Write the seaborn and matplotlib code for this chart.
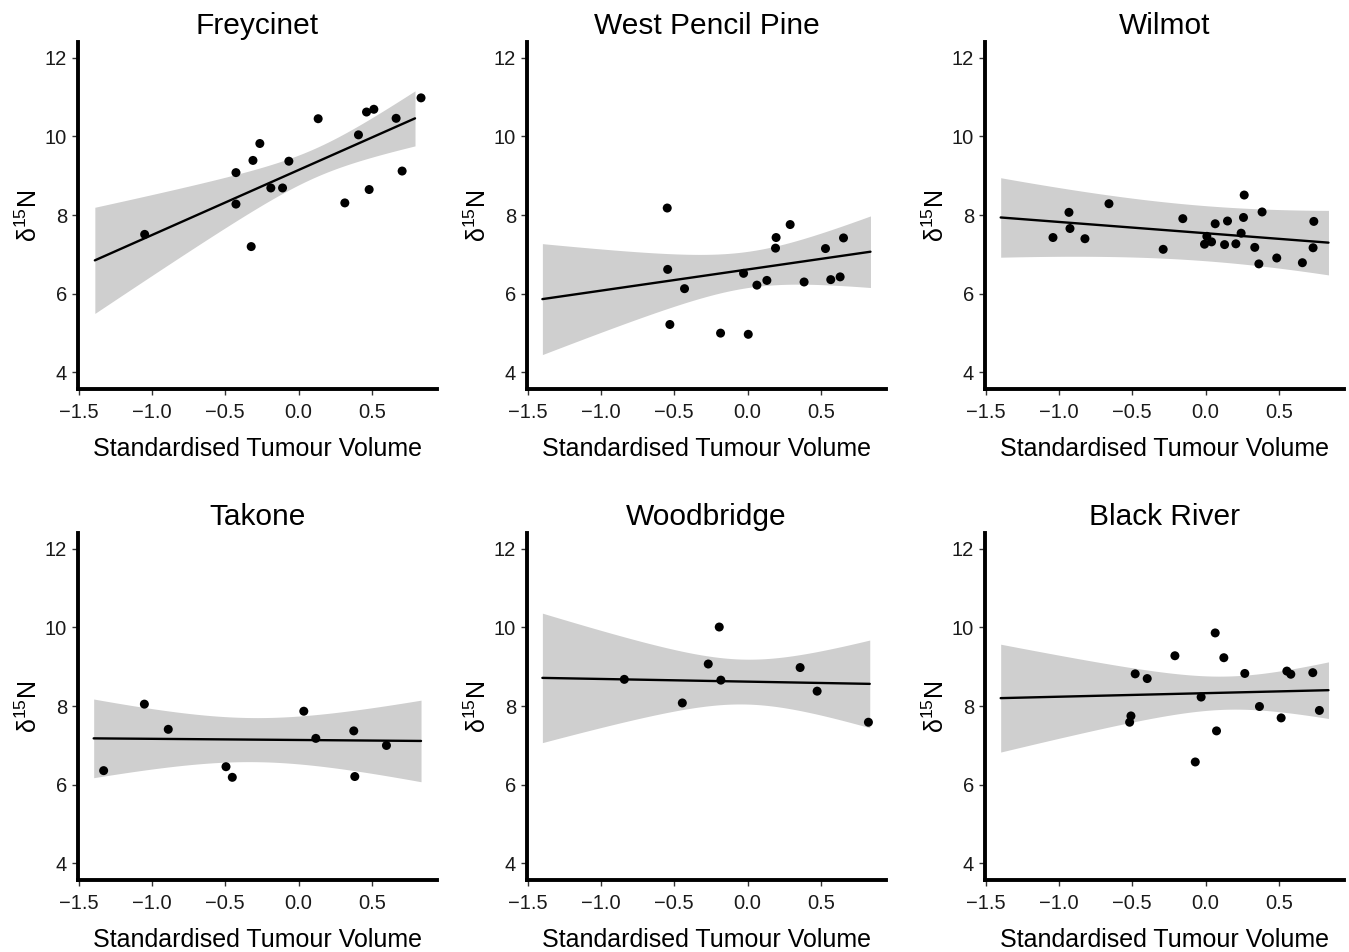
import numpy as np
import pandas as pd
import matplotlib
matplotlib.use("Agg")
import matplotlib.pyplot as plt
import seaborn as sns

# ---------------- data ----------------
sites = ["Freycinet", "West Pencil Pine", "Wilmot", "Takone", "Woodbridge", "Black River"]

freycinet_x = [-1.05, -0.427, -0.427, -0.323, -0.311, -0.264, -0.189, -0.109, -0.066,
               0.134, 0.316, 0.409, 0.464, 0.514, 0.482, 0.666, 0.707, 0.836]
freycinet_y = [7.51, 9.08, 8.28, 7.20, 9.39, 9.82, 8.69, 8.69, 9.37,
               10.45, 8.31, 10.04, 10.62, 10.69, 8.65, 10.46, 9.12, 10.98]

westpencil_x = [-0.548, -0.545, -0.530, -0.430, -0.184, -0.027, 0.005, 0.064, 0.132,
                0.191, 0.195, 0.291, 0.386, 0.532, 0.568, 0.632, 0.655]
westpencil_y = [8.18, 6.62, 5.22, 6.13, 5.00, 6.52, 4.97, 6.22, 6.34,
                7.16, 7.43, 7.76, 6.30, 7.15, 6.36, 6.43, 7.42]

wilmot_x = [-1.041, -0.932, -0.925, -0.823, -0.659, -0.289, -0.155, -0.007, 0.009, 0.041,
            0.066, 0.130, 0.150, 0.207, 0.243, 0.259, 0.264, 0.336, 0.364, 0.386,
            0.486, 0.661, 0.734, 0.739]
wilmot_y = [7.43, 8.07, 7.66, 7.40, 8.29, 7.13, 7.91, 7.26, 7.46, 7.32,
            7.78, 7.25, 7.85, 7.27, 7.54, 7.94, 8.51, 7.18, 6.76, 8.08,
            6.91, 6.79, 7.17, 7.84]

takone_x = [-1.330, -1.052, -0.889, -0.495, -0.452, 0.036, 0.118, 0.377, 0.384, 0.600]
takone_y = [6.36, 8.05, 7.41, 6.46, 6.19, 7.87, 7.18, 7.37, 6.21, 7.00]

woodbridge_x = [-0.841, -0.445, -0.268, -0.193, -0.182, 0.359, 0.475, 0.825]
woodbridge_y = [8.68, 8.08, 9.07, 10.01, 8.66, 8.98, 8.38, 7.59]

blackriver_x = [-0.518, -0.509, -0.480, -0.398, -0.209, -0.070, -0.030, 0.066, 0.075,
                0.125, 0.268, 0.368, 0.516, 0.555, 0.582, 0.732, 0.777]
blackriver_y = [7.59, 7.75, 8.82, 8.70, 9.28, 6.58, 8.23, 9.86, 7.37,
                9.23, 8.83, 7.99, 7.70, 8.89, 8.81, 8.85, 7.89]

site_x = [freycinet_x, westpencil_x, wilmot_x, takone_x, woodbridge_x, blackriver_x]
site_y = [freycinet_y, westpencil_y, wilmot_y, takone_y, woodbridge_y, blackriver_y]

# fitted model: intercept, slope
fit_intercept = [9.146, 6.618, 7.540, 7.139, 8.622, 8.329]
fit_slope = [1.652, 0.538, -0.286, -0.0295, -0.068, 0.0903]
# 95% CI half-width: sqrt(ci_min^2 + ci_curv * (x - ci_centre)^2)
ci_min = [0.368, 0.460, 0.700, 0.560, 0.570, 0.422]
ci_centre = [0.108, 0.009, 0.0125, -0.31, -0.021, 0.148]
ci_curv = [0.751, 0.895, 0.2665, 0.580, 1.253, 0.7115]
# prediction range
fit_lo = [-1.39, -1.40, -1.398, -1.398, -1.40, -1.398]
fit_hi = [0.795, 0.839, 0.839, 0.836, 0.834, 0.839]

x_ticks = [-1.5, -1.0, -0.5, 0.0, 0.5]
x_ticklabels = ["\u22121.5", "\u22121.0", "\u22120.5", "0.0", "0.5"]
y_ticks = [4, 6, 8, 10, 12]

# ---------------- style ----------------
sns.set_theme(style="ticks")
plt.rcParams["font.family"] = ["Liberation Sans", "DejaVu Sans"]
plt.rcParams["mathtext.fontset"] = "custom"
plt.rcParams["mathtext.rm"] = "Liberation Sans"
plt.rcParams["mathtext.it"] = "Liberation Sans:italic"
plt.rcParams["mathtext.bf"] = "Liberation Sans:bold"

W, H = 1349, 952
fig = plt.figure(figsize=(W / 100, H / 100), dpi=100)

col_left = [78, 527, 985]
col_width = 359
row_top = [42, 533]
row_height = 347

BAND = "#cfcfcf"

for i, site in enumerate(sites):
    r, c = divmod(i, 3)
    left = col_left[c] / W
    bottom = 1 - (row_top[r] + row_height) / H
    ax = fig.add_axes([left, bottom, col_width / W, row_height / H])

    df = pd.DataFrame({"x": site_x[i], "y": site_y[i]})
    grid = np.linspace(fit_lo[i], fit_hi[i], 200)
    pred = fit_intercept[i] + fit_slope[i] * grid
    half = np.sqrt(ci_min[i] ** 2 + ci_curv[i] * (grid - ci_centre[i]) ** 2)
    ax.fill_between(grid, pred - half, pred + half, color=BAND, linewidth=0, zorder=1)
    sns.lineplot(x=grid, y=pred, ax=ax, color="black", linewidth=1.7, zorder=2)
    sns.scatterplot(data=df, x="x", y="y", ax=ax, color="black", s=42,
                    edgecolor="none", zorder=3)

    ax.set_xlim(-1.505, 0.945)
    ax.set_ylim(3.58, 12.4)
    ax.set_xticks(x_ticks)
    ax.set_xticklabels(x_ticklabels)
    ax.set_yticks(y_ticks)
    ax.tick_params(axis="both", labelsize=14.5, length=4, width=1.0,
                   color="#333333", labelcolor="#1a1a1a")
    ax.tick_params(axis="x", pad=6)
    ax.tick_params(axis="y", pad=4)
    for sp in ["top", "right"]:
        ax.spines[sp].set_visible(False)
    for sp in ["left", "bottom"]:
        ax.spines[sp].set_linewidth(2.8)
        ax.spines[sp].set_color("black")

    ax.set_title(site, fontsize=21.5, pad=6, color="black")
    ax.set_xlabel("Standardised Tumour Volume", fontsize=18, labelpad=11, color="black")
    ax.set_ylabel(r"δ$^{\mathregular{15}}$N", fontsize=18, labelpad=2, color="black")

fig.savefig("out.png", dpi=100)
